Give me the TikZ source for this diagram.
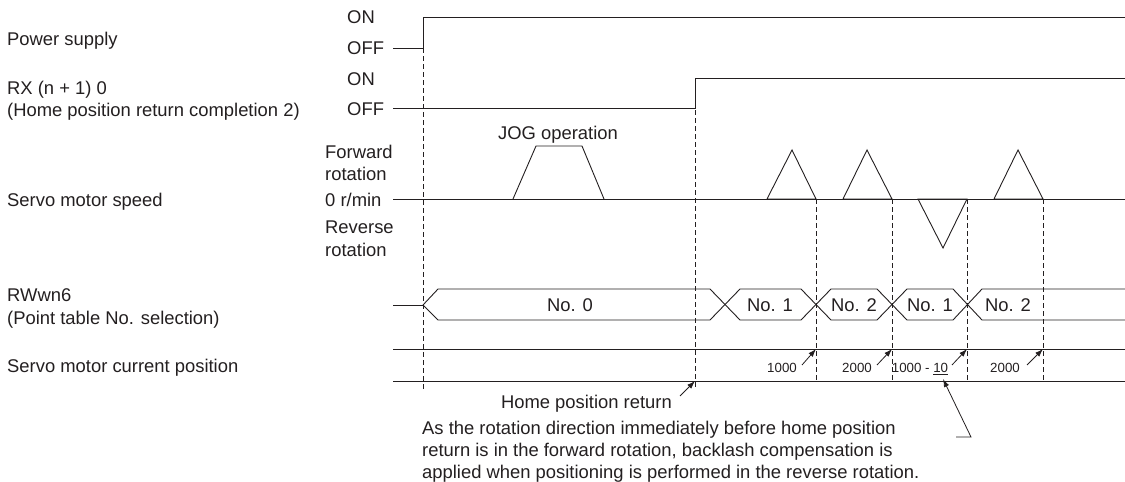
\documentclass[tikz,border=0pt]{standalone}
\usepackage{fontspec}
\setmainfont{Liberation Sans}
\usepackage{xcolor}
\usetikzlibrary{arrows.meta}
\definecolor{chartink}{HTML}{231F20}

\begin{document}
\begin{tikzpicture}[
  x=1pt,y=-1pt,
  font=\fontsize{18.4}{22}\selectfont,
  color=chartink,
  lbl/.style={inner sep=0pt,anchor=west,text height=13.2pt,text depth=0pt},
  busno/.style={inner sep=0pt,text height=13.2pt,text depth=0pt},
  num/.style={inner sep=0pt,font=\fontsize{13.3}{16}\selectfont,text height=9.5pt,text depth=0pt},
  sig/.style={draw=chartink,line width=0.9pt},
  guide/.style={draw=chartink,line width=0.8pt,dash pattern=on 4.5pt off 3.5pt},
  arrow/.style={-{Latex[length=8pt,width=5.5pt]},draw=chartink,line width=0.8pt}
]
\useasboundingbox (0,0) rectangle (1125,482);

% signal names
\node[lbl] (power) at (7,39) {Power supply};
\node[lbl] (rx) at (7,88) {RX (n + 1) 0};
\node[lbl] (rxname) at (7,110) {(Home position return completion 2)};
\node[lbl] (speed) at (7,200) {Servo motor speed};
\node[lbl] (rwwn) at (7,295) {RWwn6};
\node[lbl] (rwwnname) at (7,318) {(Point table No. selection)};
\node[lbl] (curpos) at (7,366) {Servo motor current position};

% levels
\node[lbl] (on1) at (347,17) {ON};
\node[lbl] (off1) at (347,48) {OFF};
\node[lbl] (on2) at (347,79) {ON};
\node[lbl] (off2) at (347,109) {OFF};
\node[lbl] (fwd) at (325,152) {Forward};
\node[lbl] (fwdrot) at (325,174) {rotation};
\node[lbl] (zero) at (325,200) {0 r/min};
\node[lbl] (rev) at (325,227) {Reverse};
\node[lbl] (revrot) at (325,250) {rotation};

% power supply and RX(n+1)0
\draw[sig] (393,48) -- (423,48) -- (423,17) -- (1125,17);
\draw[sig] (393,108) -- (695,108) -- (695,78) -- (1125,78);

% servo motor speed
\draw[sig] (393,199) -- (1125,199);
\draw[sig] (513,199) -- (536,146) -- (582,146) -- (604,199);
\node[busno] (jog) at (558,133) {JOG operation};
\draw[sig] (767,199) -- (792,150) -- (816,199) -- cycle;
\draw[sig] (843,199) -- (867,150) -- (892,199) -- cycle;
\draw[sig] (918,199) -- (943,248) -- (967,199) -- cycle;
\draw[sig] (994,199) -- (1018,150) -- (1043,199) -- cycle;

% point table selection
\draw[sig] (393,305) -- (423,305);
\draw[sig] (423,305) -- (438,289) -- (710,289) -- (740,320) -- (801,320) -- (831,289) -- (877,289)
  -- (907,320) -- (953,320) -- (982,289) -- (1125,289);
\draw[sig] (423,305) -- (438,320) -- (710,320) -- (740,289) -- (801,289) -- (831,320) -- (877,320)
  -- (907,289) -- (953,289) -- (982,320) -- (1125,320);
\node[busno] (no0) at (570,305) {No. 0};
\node[busno] (no1a) at (770,305) {No. 1};
\node[busno] (no2a) at (854,305) {No. 2};
\node[busno] (no1b) at (930,305) {No. 1};
\node[busno] (no2b) at (1008,305) {No. 2};

% current position
\draw[sig] (393,349) -- (1125,349);
\draw[sig] (393,381) -- (1125,381);

% timing guides
\draw[guide] (423,48) -- (423,392);
\draw[guide] (695,78) -- (695,388);
\draw[guide] (816,199) -- (816,381);
\draw[guide] (892,199) -- (892,381);
\draw[guide] (967,199) -- (967,381);
\draw[guide] (1043,199) -- (1043,381);

% positions reached
\node[num] (p1000) at (782,368) {1000};
\node[num] (p2000a) at (857,368) {2000};
\node[num] (p990) at (920,368) {1000 - \underline{10}};
\node[num] (p2000b) at (1005,368) {2000};
\coordinate (t1) at (802,365);
\coordinate (h1) at (816,349);
\coordinate (t2) at (877,365);
\coordinate (h2) at (892,349);
\coordinate (t3) at (952,365);
\coordinate (h3) at (967,349);
\coordinate (t4) at (1027,365);
\coordinate (h4) at (1043,349);
\draw[arrow] (t1) -- (h1);
\draw[arrow] (t2) -- (h2);
\draw[arrow] (t3) -- (h3);
\draw[arrow] (t4) -- (h4);

% home position return
\node[lbl,anchor=east] (home) at (672,402) {Home position return};
\coordinate (hometail) at (680,396);
\coordinate (homehead) at (695,381);
\draw[arrow] (hometail) -- (homehead);

% note
\node[lbl] (note1) at (422,428) {As the rotation direction immediately before home position};
\node[lbl] (note2) at (422,450) {return is in the forward rotation, backlash compensation is};
\node[lbl] (note3) at (422,472) {applied when positioning is performed in the reverse rotation.};
\coordinate (lead0) at (956,437);
\coordinate (lead1) at (971,437);
\coordinate (backlash) at (943,379);
\draw[arrow] (lead0) -- (lead1) -- (backlash);
\end{tikzpicture}
\end{document}
